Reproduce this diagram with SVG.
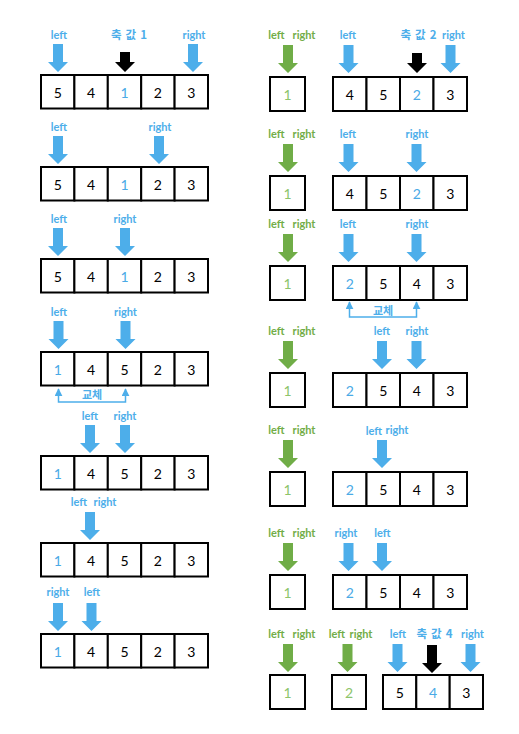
<svg xmlns="http://www.w3.org/2000/svg" xmlns:xlink="http://www.w3.org/1999/xlink" width="519" height="734" viewBox="0 0 519 734">
<style>
.cell{fill:#fff;stroke:#000;stroke-width:2}
.num{font-family:Lato,"Liberation Sans",sans-serif;font-size:14px;fill:#000;text-anchor:middle}
.nb{fill:#4AAAE6}
.ng{fill:#8CC46A}
.lbl{font-family:Lato,"Liberation Sans",sans-serif;font-weight:bold;font-size:11px;text-anchor:middle}
.kr{font-family:"Noto Sans CJK KR",Lato,sans-serif;font-weight:bold;font-size:11px;text-anchor:middle;fill:#4DAEEA}
.piv{font-size:11.5px;word-spacing:1.5px}
.tb{fill:#4DAEEA}
.tg{fill:#72AD48}
.ab{fill:#4DAEEA}
.ag{fill:#70AD47}
.ak{fill:#000}
.swap{fill:none;stroke:#4DAEEA;stroke-width:1.5}
</style>
<defs>
<path id="arr" d="M-5,0 H5 V18 H10 L0,28 L-10,18 H-5 Z"/>
<path id="arrS" d="M-5,0 H5 V10 H10 L0,20 L-10,10 H-5 Z"/>
<marker id="up" viewBox="0 0 10 10" refX="9" refY="5" markerUnits="userSpaceOnUse" markerWidth="8" markerHeight="8" orient="auto-start-reverse">
<path d="M0,0 L10,5 L0,10 Z" fill="#4DAEEA"/>
</marker>
</defs>

<!-- LEFT COLUMN ARRAYS -->
<g id="L1">
<rect class="cell" x="41" y="75" width="33.4" height="33.5"/><rect class="cell" x="74.4" y="75" width="33.4" height="33.5"/><rect class="cell" x="107.8" y="75" width="33.4" height="33.5"/><rect class="cell" x="141.2" y="75" width="33.4" height="33.5"/><rect class="cell" x="174.6" y="75" width="33.4" height="33.5"/>
<text class="num" x="57.7" y="98">5</text><text class="num" x="91.1" y="98">4</text><text class="num nb" x="124.5" y="98">1</text><text class="num" x="157.9" y="98">2</text><text class="num" x="191.3" y="98">3</text>
</g>
<g id="L2">
<rect class="cell" x="41" y="167" width="33.4" height="33.5"/><rect class="cell" x="74.4" y="167" width="33.4" height="33.5"/><rect class="cell" x="107.8" y="167" width="33.4" height="33.5"/><rect class="cell" x="141.2" y="167" width="33.4" height="33.5"/><rect class="cell" x="174.6" y="167" width="33.4" height="33.5"/>
<text class="num" x="57.7" y="190">5</text><text class="num" x="91.1" y="190">4</text><text class="num nb" x="124.5" y="190">1</text><text class="num" x="157.9" y="190">2</text><text class="num" x="191.3" y="190">3</text>
</g>
<g id="L3">
<rect class="cell" x="41" y="259" width="33.4" height="33.5"/><rect class="cell" x="74.4" y="259" width="33.4" height="33.5"/><rect class="cell" x="107.8" y="259" width="33.4" height="33.5"/><rect class="cell" x="141.2" y="259" width="33.4" height="33.5"/><rect class="cell" x="174.6" y="259" width="33.4" height="33.5"/>
<text class="num" x="57.7" y="282">5</text><text class="num" x="91.1" y="282">4</text><text class="num nb" x="124.5" y="282">1</text><text class="num" x="157.9" y="282">2</text><text class="num" x="191.3" y="282">3</text>
</g>
<g id="L4">
<rect class="cell" x="41" y="352" width="33.4" height="33.5"/><rect class="cell" x="74.4" y="352" width="33.4" height="33.5"/><rect class="cell" x="107.8" y="352" width="33.4" height="33.5"/><rect class="cell" x="141.2" y="352" width="33.4" height="33.5"/><rect class="cell" x="174.6" y="352" width="33.4" height="33.5"/>
<text class="num nb" x="57.7" y="375">1</text><text class="num" x="91.1" y="375">4</text><text class="num" x="124.5" y="375">5</text><text class="num" x="157.9" y="375">2</text><text class="num" x="191.3" y="375">3</text>
</g>
<g id="L5">
<rect class="cell" x="41" y="456" width="33.4" height="33.5"/><rect class="cell" x="74.4" y="456" width="33.4" height="33.5"/><rect class="cell" x="107.8" y="456" width="33.4" height="33.5"/><rect class="cell" x="141.2" y="456" width="33.4" height="33.5"/><rect class="cell" x="174.6" y="456" width="33.4" height="33.5"/>
<text class="num nb" x="57.7" y="479">1</text><text class="num" x="91.1" y="479">4</text><text class="num" x="124.5" y="479">5</text><text class="num" x="157.9" y="479">2</text><text class="num" x="191.3" y="479">3</text>
</g>
<g id="L6">
<rect class="cell" x="41" y="543" width="33.4" height="33.5"/><rect class="cell" x="74.4" y="543" width="33.4" height="33.5"/><rect class="cell" x="107.8" y="543" width="33.4" height="33.5"/><rect class="cell" x="141.2" y="543" width="33.4" height="33.5"/><rect class="cell" x="174.6" y="543" width="33.4" height="33.5"/>
<text class="num nb" x="57.7" y="566">1</text><text class="num" x="91.1" y="566">4</text><text class="num" x="124.5" y="566">5</text><text class="num" x="157.9" y="566">2</text><text class="num" x="191.3" y="566">3</text>
</g>
<g id="L7">
<rect class="cell" x="41" y="634" width="33.4" height="33.5"/><rect class="cell" x="74.4" y="634" width="33.4" height="33.5"/><rect class="cell" x="107.8" y="634" width="33.4" height="33.5"/><rect class="cell" x="141.2" y="634" width="33.4" height="33.5"/><rect class="cell" x="174.6" y="634" width="33.4" height="33.5"/>
<text class="num nb" x="57.7" y="657">1</text><text class="num" x="91.1" y="657">4</text><text class="num" x="124.5" y="657">5</text><text class="num" x="157.9" y="657">2</text><text class="num" x="191.3" y="657">3</text>
</g>

<!-- RIGHT COLUMN -->
<g id="R1">
<rect class="cell" x="270" y="77" width="35" height="34"/>
<text class="num ng" x="287.5" y="100">1</text>
<rect class="cell" x="333" y="77" width="33.5" height="34"/><rect class="cell" x="366.5" y="77" width="33.5" height="34"/><rect class="cell" x="400" y="77" width="33.5" height="34"/><rect class="cell" x="433.5" y="77" width="33.5" height="34"/>
<text class="num" x="349.75" y="100">4</text><text class="num" x="383.25" y="100">5</text><text class="num nb" x="416.75" y="100">2</text><text class="num" x="450.25" y="100">3</text>
</g>
<g id="R2">
<rect class="cell" x="270" y="176" width="35" height="34"/>
<text class="num ng" x="287.5" y="199">1</text>
<rect class="cell" x="333" y="176" width="33.5" height="34"/><rect class="cell" x="366.5" y="176" width="33.5" height="34"/><rect class="cell" x="400" y="176" width="33.5" height="34"/><rect class="cell" x="433.5" y="176" width="33.5" height="34"/>
<text class="num" x="349.75" y="199">4</text><text class="num" x="383.25" y="199">5</text><text class="num nb" x="416.75" y="199">2</text><text class="num" x="450.25" y="199">3</text>
</g>
<g id="R3">
<rect class="cell" x="270" y="266" width="35" height="34"/>
<text class="num ng" x="287.5" y="289">1</text>
<rect class="cell" x="333" y="266" width="33.5" height="34"/><rect class="cell" x="366.5" y="266" width="33.5" height="34"/><rect class="cell" x="400" y="266" width="33.5" height="34"/><rect class="cell" x="433.5" y="266" width="33.5" height="34"/>
<text class="num nb" x="349.75" y="289">2</text><text class="num" x="383.25" y="289">5</text><text class="num" x="416.75" y="289">4</text><text class="num" x="450.25" y="289">3</text>
</g>
<g id="R4">
<rect class="cell" x="270" y="373" width="35" height="34"/>
<text class="num ng" x="287.5" y="396">1</text>
<rect class="cell" x="333" y="373" width="33.5" height="34"/><rect class="cell" x="366.5" y="373" width="33.5" height="34"/><rect class="cell" x="400" y="373" width="33.5" height="34"/><rect class="cell" x="433.5" y="373" width="33.5" height="34"/>
<text class="num nb" x="349.75" y="396">2</text><text class="num" x="383.25" y="396">5</text><text class="num" x="416.75" y="396">4</text><text class="num" x="450.25" y="396">3</text>
</g>
<g id="R5">
<rect class="cell" x="270" y="472" width="35" height="34"/>
<text class="num ng" x="287.5" y="495">1</text>
<rect class="cell" x="333" y="472" width="33.5" height="34"/><rect class="cell" x="366.5" y="472" width="33.5" height="34"/><rect class="cell" x="400" y="472" width="33.5" height="34"/><rect class="cell" x="433.5" y="472" width="33.5" height="34"/>
<text class="num nb" x="349.75" y="495">2</text><text class="num" x="383.25" y="495">5</text><text class="num" x="416.75" y="495">4</text><text class="num" x="450.25" y="495">3</text>
</g>
<g id="R6">
<rect class="cell" x="270" y="575" width="35" height="34"/>
<text class="num ng" x="287.5" y="598">1</text>
<rect class="cell" x="333" y="575" width="33.5" height="34"/><rect class="cell" x="366.5" y="575" width="33.5" height="34"/><rect class="cell" x="400" y="575" width="33.5" height="34"/><rect class="cell" x="433.5" y="575" width="33.5" height="34"/>
<text class="num nb" x="349.75" y="598">2</text><text class="num" x="383.25" y="598">5</text><text class="num" x="416.75" y="598">4</text><text class="num" x="450.25" y="598">3</text>
</g>
<g id="R7">
<rect class="cell" x="270" y="675" width="35" height="34"/>
<text class="num ng" x="287.5" y="698">1</text>
<rect class="cell" x="332" y="675" width="34" height="34"/>
<text class="num ng" x="349" y="698">2</text>
<rect class="cell" x="383" y="675" width="33.3" height="34"/><rect class="cell" x="416.3" y="675" width="33.4" height="34"/><rect class="cell" x="449.7" y="675" width="33.3" height="34"/>
<text class="num" x="399.7" y="698">5</text><text class="num nb" x="433" y="698">4</text><text class="num" x="466.3" y="698">3</text>
</g>

<!-- POINTERS (arrows + labels) -->
<g id="pointers">
<!-- L1 -->
<text class="lbl tb" x="59" y="39">left</text>
<text class="kr piv" x="129" y="39">축 값 1</text>
<text class="lbl tb" x="194" y="39">right</text>
<use xlink:href="#arr" x="58" y="44" class="ab"/>
<use xlink:href="#arrS" x="125" y="52" class="ak"/>
<use xlink:href="#arr" x="193" y="44" class="ab"/>
<!-- L2 -->
<text class="lbl tb" x="59" y="131">left</text>
<text class="lbl tb" x="160" y="131">right</text>
<use xlink:href="#arr" x="58" y="136" class="ab"/>
<use xlink:href="#arr" x="159" y="136" class="ab"/>
<!-- L3 -->
<text class="lbl tb" x="59" y="223">left</text>
<text class="lbl tb" x="125" y="223">right</text>
<use xlink:href="#arr" x="58" y="228" class="ab"/>
<use xlink:href="#arr" x="125" y="228" class="ab"/>
<!-- L4 -->
<text class="lbl tb" x="59" y="316">left</text>
<text class="lbl tb" x="125.5" y="316">right</text>
<use xlink:href="#arr" x="58.5" y="321" class="ab"/>
<use xlink:href="#arr" x="125.5" y="321" class="ab"/>
<!-- L5 -->
<text class="lbl tb" x="90" y="420">left</text>
<text class="lbl tb" x="125" y="420">right</text>
<use xlink:href="#arr" x="90" y="425" class="ab"/>
<use xlink:href="#arr" x="125" y="425" class="ab"/>
<!-- L6 -->
<text class="lbl tb" x="79" y="506">left</text>
<text class="lbl tb" x="105" y="506">right</text>
<use xlink:href="#arr" x="90" y="512" class="ab"/>
<!-- L7 -->
<text class="lbl tb" x="58" y="596">right</text>
<text class="lbl tb" x="92" y="596">left</text>
<use xlink:href="#arr" x="58" y="603" class="ab"/>
<use xlink:href="#arr" x="91.5" y="603" class="ab"/>

<!-- R1 -->
<text class="lbl tg" x="276.5" y="39">left</text>
<text class="lbl tg" x="304" y="39">right</text>
<use xlink:href="#arr" x="288" y="45" class="ag"/>
<text class="lbl tb" x="348" y="39">left</text>
<text class="kr piv" x="418.5" y="39">축 값 2</text>
<text class="lbl tb" x="453.5" y="39">right</text>
<use xlink:href="#arr" x="348.5" y="45" class="ab"/>
<use xlink:href="#arrS" x="417" y="53" class="ak"/>
<use xlink:href="#arr" x="450.5" y="45" class="ab"/>
<!-- R2 -->
<text class="lbl tg" x="276.5" y="138">left</text>
<text class="lbl tg" x="304" y="138">right</text>
<use xlink:href="#arr" x="288" y="144" class="ag"/>
<text class="lbl tb" x="348" y="138">left</text>
<text class="lbl tb" x="417" y="138">right</text>
<use xlink:href="#arr" x="348.5" y="144" class="ab"/>
<use xlink:href="#arr" x="416.5" y="144" class="ab"/>
<!-- R3 -->
<text class="lbl tg" x="276.5" y="228">left</text>
<text class="lbl tg" x="304" y="228">right</text>
<use xlink:href="#arr" x="288" y="234" class="ag"/>
<text class="lbl tb" x="348" y="228">left</text>
<text class="lbl tb" x="417" y="228">right</text>
<use xlink:href="#arr" x="348.5" y="234" class="ab"/>
<use xlink:href="#arr" x="416.5" y="234" class="ab"/>
<!-- R4 -->
<text class="lbl tg" x="276.5" y="335">left</text>
<text class="lbl tg" x="304" y="335">right</text>
<use xlink:href="#arr" x="288" y="341" class="ag"/>
<text class="lbl tb" x="382" y="335">left</text>
<text class="lbl tb" x="417" y="335">right</text>
<use xlink:href="#arr" x="382" y="341" class="ab"/>
<use xlink:href="#arr" x="416.5" y="341" class="ab"/>
<!-- R5 -->
<text class="lbl tg" x="276.5" y="434">left</text>
<text class="lbl tg" x="304" y="434">right</text>
<use xlink:href="#arr" x="288" y="440" class="ag"/>
<text class="lbl tb" x="374" y="435">left</text>
<text class="lbl tb" x="397" y="434">right</text>
<use xlink:href="#arr" x="382" y="440" class="ab"/>
<!-- R6 -->
<text class="lbl tg" x="276.5" y="537">left</text>
<text class="lbl tg" x="304" y="537">right</text>
<use xlink:href="#arr" x="288" y="543" class="ag"/>
<text class="lbl tb" x="346" y="537">right</text>
<text class="lbl tb" x="382.5" y="537">left</text>
<use xlink:href="#arr" x="348.5" y="543" class="ab"/>
<use xlink:href="#arr" x="382" y="543" class="ab"/>
<!-- R7 -->
<text class="lbl tg" x="276.5" y="638">left</text>
<text class="lbl tg" x="304" y="638">right</text>
<use xlink:href="#arr" x="288" y="644" class="ag"/>
<text class="lbl tg" x="337" y="638">left</text>
<text class="lbl tg" x="361" y="638">right</text>
<use xlink:href="#arr" x="347.5" y="644" class="ag"/>
<text class="lbl tb" x="398" y="638">left</text>
<text class="kr piv" x="434.5" y="638">축 값 4</text>
<text class="lbl tb" x="472.5" y="638">right</text>
<use xlink:href="#arr" x="397.5" y="644" class="ab"/>
<use xlink:href="#arr" x="432" y="645" class="ak"/>
<use xlink:href="#arr" x="470.5" y="644" class="ab"/>
</g>

<!-- CONNECTORS (swap) -->
<g id="connectors">
<path class="swap" d="M58.5,389 V402 H125.5 V389" marker-start="url(#up)" marker-end="url(#up)"/>
<text class="kr" x="92" y="399">교체</text>
<path class="swap" d="M349.5,302 V317 H416.5 V302" marker-start="url(#up)" marker-end="url(#up)"/>
<text class="kr" x="383" y="315">교체</text>
</g>
</svg>
